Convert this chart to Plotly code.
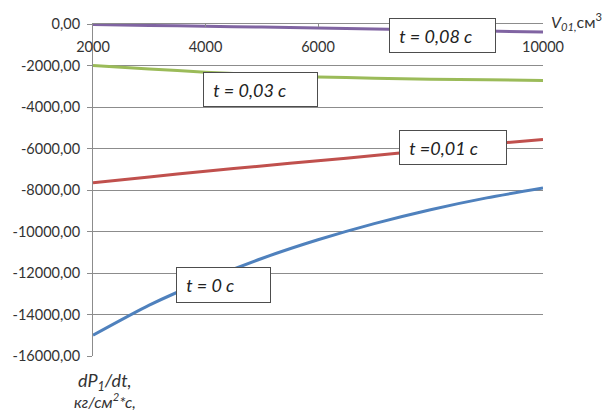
import plotly.graph_objects as go

# ---- data ----
volumes = [2000, 3000, 4000, 5000, 6000, 7000, 8000, 9000, 10000]
dp_t0 = [-15000, -13550, -12350, -11300, -10400, -9620, -8950, -8380, -7900]
dp_t001 = [-7650, -7370, -7100, -6840, -6590, -6340, -6060, -5800, -5560]
dp_t003 = [-2000, -2170, -2320, -2450, -2550, -2610, -2660, -2690, -2720]
dp_t008 = [-20, -70, -110, -150, -190, -240, -290, -340, -390]

series_names = ["t = 0 с", "t =0,01 с", "t = 0,03 с", "t = 0,08 с"]
y_ticks = [0, -2000, -4000, -6000, -8000, -10000, -12000, -14000, -16000]
x_ticks = [2000, 4000, 6000, 8000, 10000]

colors = ["#4F81BD", "#C0504D", "#9BBB59", "#8064A2"]
FONT = "Lato, 'Liberation Sans', sans-serif"
OFF = 8  # page body margin
W, H = 610 - OFF, 410 - OFF
L, R, T, B = 93 - OFF, 67, 24 - OFF, 54
PW, PH = W - L - R, H - T - B


def px(xp):  # page pixel -> paper
    return (xp - OFF - L) / PW


def py(yp):
    return (H - B - (yp - OFF)) / PH


fig = go.Figure()
for ys, c, n in zip([dp_t0, dp_t001, dp_t003, dp_t008], colors, series_names):
    fig.add_trace(go.Scatter(x=volumes, y=ys, mode="lines", name=n,
                             line=dict(color=c, width=3, shape="spline", smoothing=0.6),
                             showlegend=False, hoverinfo="skip"))

grid = "#8C8C8C"
fig.update_layout(
    width=W, height=H,
    margin=dict(l=L, r=R, t=T, b=B, pad=0),
    paper_bgcolor="white", plot_bgcolor="white",
    font=dict(family=FONT, size=14.5, color="#333333"),
    xaxis=dict(range=[2000, 10000], side="top", tickvals=x_ticks,
               ticktext=[str(v) for v in x_ticks],
               ticklabelposition="inside", ticklabelstandoff=15,
               ticklabeloverflow="allow", automargin=False,
               showgrid=False, zeroline=False,
               showline=True, linecolor=grid, linewidth=1,
               ticks="inside", ticklen=3, tickcolor=grid,
               tickfont=dict(size=14.5, color="#333333")),
    yaxis=dict(range=[-16000, 0], tickvals=y_ticks,
               ticktext=[f"{v:.2f}".replace(".", ",") for v in y_ticks],
               ticklabeloverflow="allow", automargin=False,
               showgrid=True, gridcolor=grid, gridwidth=1, zeroline=False,
               showline=True, linecolor=grid, linewidth=1,
               ticks="outside", ticklen=5, tickcolor=grid,
               ticklabelstandoff=4,
               tickfont=dict(size=14.5, color="#333333")),
)

# label boxes: (text, left px, top px, width px, height px) in page pixels
boxes = [
    ("t = 0,08 с", 389, 18, 107, 35),
    ("t = 0,03 с", 203, 72, 115, 35),
    ("t =0,01 с", 399, 130, 108, 35),
    ("t = 0 с", 176, 267, 95, 36),
]
for txt, bx, by, bw, bh in boxes:
    fig.add_annotation(
        xref="paper", yref="paper", x=px(bx), y=py(by),
        xanchor="left", yanchor="top", showarrow=False,
        text="&nbsp;&nbsp;<i>" + txt + "</i>",
        align="left", valign="middle",
        width=bw - 2, height=bh - 2,
        bgcolor="white", bordercolor="#4D4D4D", borderwidth=1, borderpad=0,
        font=dict(family=FONT, size=18, color="#222222"))

# axis titles
fig.add_annotation(xref="paper", yref="paper", x=px(549), y=py(21),
                   xanchor="left", yanchor="middle", showarrow=False,
                   text="<i>V<sub>01,</sub></i>см<sup>3</sup>",
                   font=dict(family=FONT, size=16, color="#333333"))
fig.add_annotation(xref="paper", yref="paper", x=px(105), y=py(381),
                   xanchor="center", yanchor="middle", showarrow=False,
                   text="<i>dP<sub>1</sub>/dt,</i>",
                   font=dict(family=FONT, size=18, color="#333333"))
fig.add_annotation(xref="paper", yref="paper", x=px(105), y=py(400),
                   xanchor="center", yanchor="middle", showarrow=False,
                   text="<i>кг/см<sup>2</sup>*с,</i>",
                   font=dict(family=FONT, size=16, color="#333333"))

fig.write_html("out.html")
